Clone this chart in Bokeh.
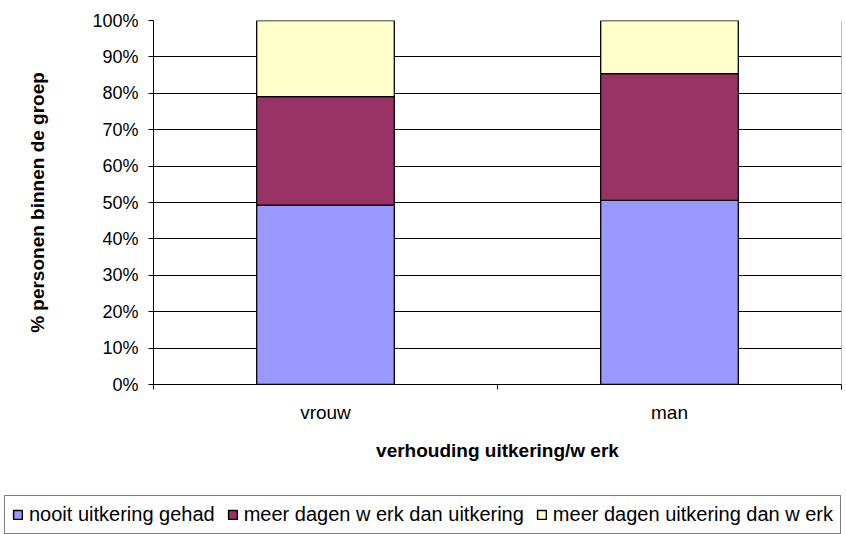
from bokeh.plotting import figure
from bokeh.models import (ColumnDataSource, Range1d, FixedTicker, PrintfTickFormatter,
                          Legend, LegendItem, Span)
from bokeh.layouts import column
from bokeh.embed import file_html
from bokeh.resources import INLINE

# ---- data (percent of persons within group) ----
categories = ["vrouw", "man"]
series_names = ["nooit uitkering gehad",
                "meer dagen w erk dan uitkering",
                "meer dagen uitkering dan w erk"]
nooit = [49.3, 50.6]
meer_werk = [29.8, 34.8]
meer_uitkering = [20.9, 14.6]
colors = ["#9999FF", "#993366", "#FFFFCC"]
y_ticks = list(range(0, 101, 10))

FONT = "Liberation Sans"
n = len(categories)
xs = [i + 0.5 for i in range(n)]
stack_cols = ["nooit", "werk", "uitk"]

source = ColumnDataSource(dict(x=xs, nooit=nooit, werk=meer_werk, uitk=meer_uitkering))

p = figure(width=846, height=490, x_range=Range1d(0, n), y_range=Range1d(0, 100),
           output_backend="svg", toolbar_location=None,
           min_border_left=153, min_border_right=5, min_border_top=20, min_border_bottom=106)
p.outline_line_color = None
p.background_fill_color = "white"
p.border_fill_color = "white"

renderers = p.vbar_stack(stack_cols, x="x", width=0.4, color=colors,
                         line_color="black", line_width=1.3, source=source)

# grid
p.xgrid.visible = False
p.ygrid.ticker = FixedTicker(ticks=y_ticks)
p.ygrid.grid_line_color = "black"
p.ygrid.grid_line_width = 1

# right edge line
p.add_layout(Span(location=n, dimension="height", line_color="#808080", line_width=1))

# y axis
ya = p.yaxis[0]
ya.ticker = FixedTicker(ticks=y_ticks)
ya.formatter = PrintfTickFormatter(format="%d%%")
ya.axis_line_color = "black"
ya.major_tick_line_color = "black"
ya.major_tick_out = 5
ya.major_tick_in = 0
ya.minor_tick_line_color = None
ya.major_label_text_font = FONT
ya.major_label_text_font_size = "18px"
ya.major_label_text_color = "black"
ya.major_label_standoff = 10
ya.axis_label = "% personen binnen de groep"
ya.axis_label_text_font = FONT
ya.axis_label_text_font_style = "bold"
ya.axis_label_text_font_size = "19px"
ya.axis_label_text_color = "black"
ya.axis_label_standoff = 41

# x axis
xa = p.xaxis[0]
xa.ticker = FixedTicker(ticks=xs, minor_ticks=list(range(n + 1)))
xa.major_label_overrides = {x: c for x, c in zip(xs, categories)}
xa.axis_line_color = "black"
xa.major_tick_line_color = None
xa.major_tick_out = 5
xa.major_tick_in = 0
xa.minor_tick_line_color = "black"
xa.minor_tick_out = 5
xa.minor_tick_in = 0
xa.major_label_text_font = FONT
xa.major_label_text_font_size = "19px"
xa.major_label_text_color = "black"
xa.major_label_standoff = 12
xa.axis_label = "verhouding uitkering/w erk"
xa.axis_label_text_font = FONT
xa.axis_label_text_font_style = "bold"
xa.axis_label_text_font_size = "19px"
xa.axis_label_text_color = "black"
xa.axis_label_standoff = 14

# legend strip (separate figure spanning the full width)
pl = figure(width=846, height=44, x_range=Range1d(0, 1), y_range=Range1d(0, 1),
            output_backend="svg", toolbar_location=None,
            min_border_left=0, min_border_right=0, min_border_top=0, min_border_bottom=0)
pl.axis.visible = False
pl.grid.visible = False
pl.outline_line_color = None
pl.border_fill_color = "white"
for fig in (p, pl):
    if "frame_align" in fig.properties():
        fig.frame_align = False
proxies = pl.vbar_stack(stack_cols, x="x", width=0.4, color=colors,
                        line_color="black", line_width=1.5, source=source)
for r in proxies:
    r.visible = False
items = [LegendItem(label=name, renderers=[r]) for name, r in zip(series_names, proxies)]
legend = Legend(items=items, orientation="horizontal", location=(4, 0))
legend.label_text_font = FONT
legend.label_text_font_size = "20px"
legend.label_text_color = "black"
legend.glyph_width = 11
legend.glyph_height = 11
legend.label_standoff = 6
legend.spacing = 12
legend.padding = 7
legend.margin = 0
legend.inactive_fill_alpha = 0
legend.border_line_color = "black"
legend.border_line_width = 1
legend.background_fill_color = "white"
legend.background_fill_alpha = 1
pl.add_layout(legend, "center")

layout = column(p, pl, spacing=0)
open("out.html", "w").write(file_html(layout, INLINE))
